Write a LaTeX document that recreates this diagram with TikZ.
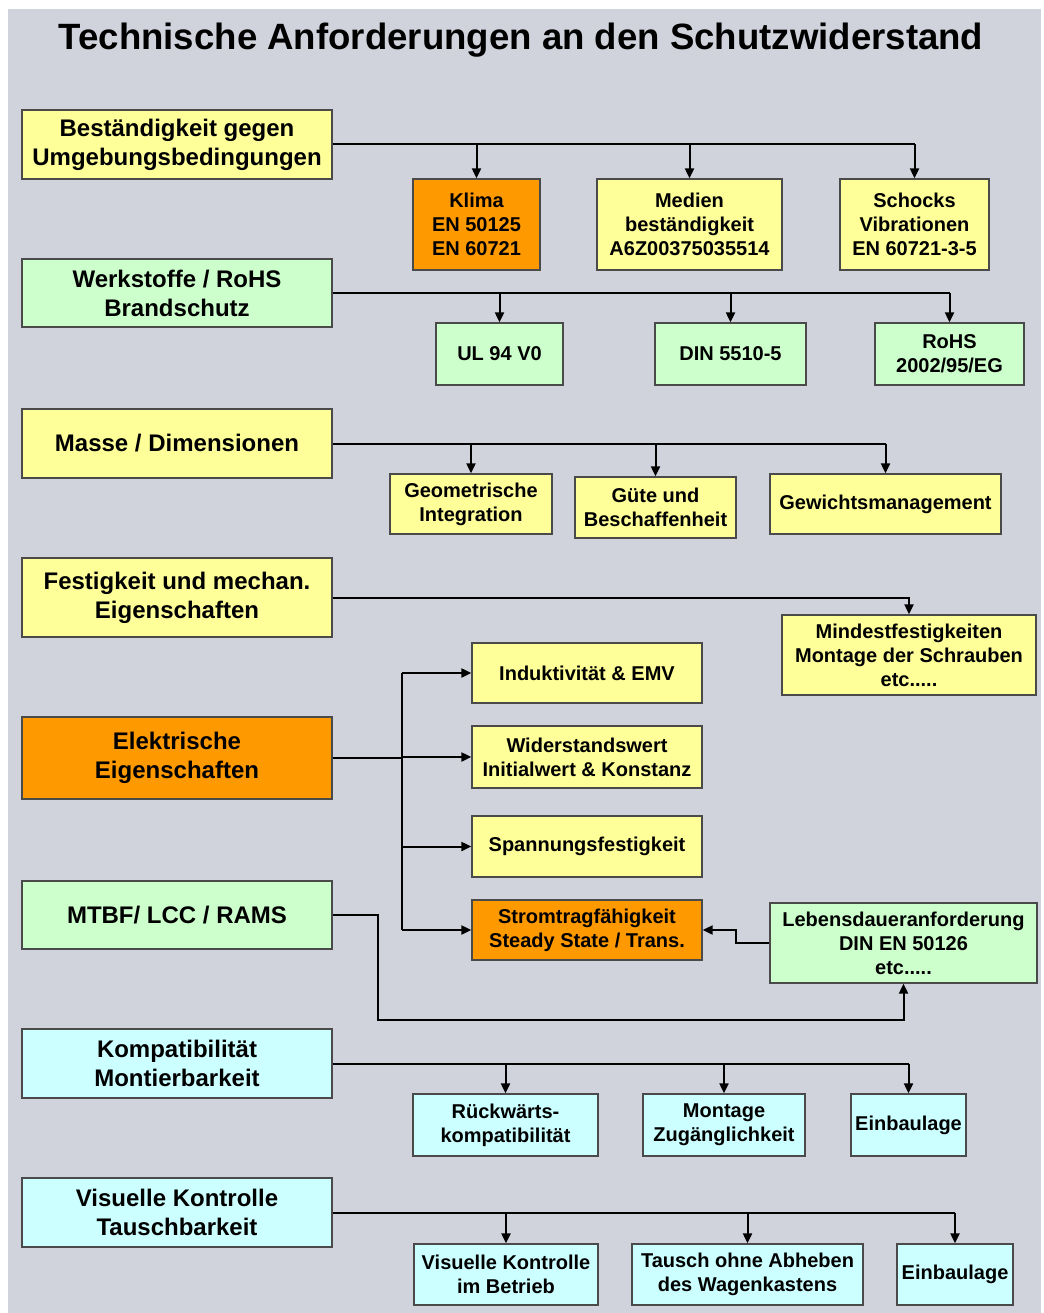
\documentclass[tikz,border=0pt]{standalone}
\usepackage{fontspec}
\setmainfont{Liberation Sans}
\usetikzlibrary{arrows.meta}
\definecolor{canvas}{HTML}{D0D3DC}
\definecolor{edge}{HTML}{4A4A4A}
\definecolor{cYel}{HTML}{FFFF99}
\definecolor{cOra}{HTML}{FF9900}
\definecolor{cGrn}{HTML}{CCFFCC}
\definecolor{cCya}{HTML}{CCFFFF}
\tikzset{>={Triangle[length=10pt,width=9pt]},
  box/.style={draw=edge,line width=1.3pt,align=center,inner sep=0pt},
  head/.style={box,minimum width=310pt,font=\fontsize{24}{29}\selectfont\bfseries},
  item/.style={box,font=\fontsize{20}{24}\selectfont\bfseries},
  yel/.style={fill=cYel},ora/.style={fill=cOra},grn/.style={fill=cGrn},cya/.style={fill=cCya},
  wire/.style={draw=black,line width=2pt},
  link/.style={wire,->}}

\begin{document}
\begin{tikzpicture}[x=1pt,y=-1pt]
  \useasboundingbox (0,0) rectangle (1043,1313);
  \fill[canvas] (8,9) rectangle (1041,1313);
  \node[font=\fontsize{36.6}{40}\selectfont\bfseries] (title) at (521,40) {Technische Anforderungen an den Schutzwiderstand};
  % left column
  \node[head,yel,minimum height=69pt] (umg) at (177,144.5) {Beständigkeit gegen\\Umgebungsbedingungen};
  \node[head,grn,minimum height=68pt] (werk) at (177,293) {Werkstoffe / RoHS\\Brandschutz};
  \node[head,yel,minimum height=69pt] (masse) at (177,443.5) {Masse / Dimensionen};
  \node[head,yel,minimum height=79pt] (fest) at (177,597.5) {Festigkeit und mechan.\\Eigenschaften};
  \node[head,ora,minimum height=82pt] (elek) at (177,758) {Elektrische\\Eigenschaften};
  \node[head,grn,minimum height=68pt] (mtbf) at (177,915) {MTBF/ LCC / RAMS};
  \node[head,cya,minimum height=69pt] (kompat) at (177,1063.5) {Kompatibilität\\Montierbarkeit};
  \node[head,cya,minimum height=69pt] (visu) at (177,1212.5) {Visuelle Kontrolle\\Tauschbarkeit};
  % children
  \node[item,ora,minimum width=127pt,minimum height=91pt] (klima) at (476.5,224.5) {Klima\\EN 50125\\EN 60721};
  \node[item,yel,minimum width=185pt,minimum height=91pt] (medien) at (689.5,224.5) {Medien\\beständigkeit\\A6Z00375035514};
  \node[item,yel,minimum width=149pt,minimum height=91pt] (schock) at (914.5,224.5) {Schocks\\Vibrationen\\EN 60721-3-5};
  \node[item,grn,minimum width=127pt,minimum height=62pt] (ul) at (499.5,354) {UL 94 V0};
  \node[item,grn,minimum width=151pt,minimum height=62pt] (din) at (730.5,354) {DIN 5510-5};
  \node[item,grn,minimum width=149pt,minimum height=62pt] (rohs) at (949.5,354) {RoHS\\2002/95/EG};
  \node[item,yel,minimum width=162pt,minimum height=60pt] (geo) at (471,504) {Geometrische\\Integration};
  \node[item,yel,minimum width=161pt,minimum height=61pt] (guete) at (655.5,507.5) {Güte und\\Beschaffenheit};
  \node[item,yel,minimum width=231pt,minimum height=60pt] (gewicht) at (885.5,504) {Gewichtsmanagement};
  \node[item,yel,minimum width=254pt,minimum height=80pt] (mindest) at (909,655) {Mindestfestigkeiten\\Montage der Schrauben\\etc.....};
  \node[item,yel,minimum width=230pt,minimum height=60pt] (induk) at (587,673) {Induktivität \& EMV};
  \node[item,yel,minimum width=230pt,minimum height=62pt] (widst) at (587,757) {Widerstandswert\\Initialwert \& Konstanz};
  \node[item,yel,minimum width=230pt,minimum height=61pt] (spann) at (587,846.5) {Spannungsfestigkeit};
  \node[item,ora,minimum width=230pt,minimum height=60pt] (strom) at (587,930) {Stromtragfähigkeit\\Steady State / Trans.};
  \node[item,grn,minimum width=267pt,minimum height=80pt] (leben) at (903.5,943) {Lebensdaueranforderung\\DIN EN 50126\\etc.....};
  \node[item,cya,minimum width=185pt,minimum height=62pt] (rueck) at (505.5,1125) {Rückwärts-\\kompatibilität};
  \node[item,cya,minimum width=162pt,minimum height=62pt] (montage) at (724,1125) {Montage\\Zugänglichkeit};
  \node[item,cya,minimum width=115pt,minimum height=62pt] (einbA) at (908.5,1125) {Einbaulage};
  \node[item,cya,minimum width=184pt,minimum height=61pt] (vkbetr) at (506,1274.5) {Visuelle Kontrolle\\im Betrieb};
  \node[item,cya,minimum width=231pt,minimum height=61pt] (tausch) at (747.5,1274.5) {Tausch ohne Abheben\\des Wagenkastens};
  \node[item,cya,minimum width=116pt,minimum height=61pt] (einbB) at (955,1274.5) {Einbaulage};
  % connectors
  \draw[wire] (umg.east) -- (umg.east -| schock.north);
  \foreach \c in {klima,medien,schock} \draw[link] (umg.east -| \c.north) -- (\c.north);
  \draw[wire] (werk.east) -- (werk.east -| rohs.north);
  \foreach \c in {ul,din,rohs} \draw[link] (werk.east -| \c.north) -- (\c.north);
  \draw[wire] (masse.east) -- (masse.east -| gewicht.north);
  \foreach \c in {geo,guete,gewicht} \draw[link] (masse.east -| \c.north) -- (\c.north);
  \draw[link] (fest.east) -| (mindest.north);
  \draw[wire] (elek.east) -- ++(69,0) coordinate (ej);
  \draw[wire] (ej |- induk) -- (ej |- strom);
  \foreach \c in {induk,widst,spann,strom} \draw[link] (ej |- \c) -- (\c.west);
  \coordinate (mtb) at (378,1020);
  \draw[link] (mtbf.east) -| (mtb) -| (leben.south);
  \draw[link] (leben.west) -- ++(-33,0) |- (strom.east);
  \draw[wire] (kompat.east) -- (kompat.east -| einbA.north);
  \foreach \c in {rueck,montage,einbA} \draw[link] (kompat.east -| \c.north) -- (\c.north);
  \draw[wire] (visu.east) -- (visu.east -| einbB.north);
  \foreach \c in {vkbetr,tausch,einbB} \draw[link] (visu.east -| \c.north) -- (\c.north);
\end{tikzpicture}
\end{document}
